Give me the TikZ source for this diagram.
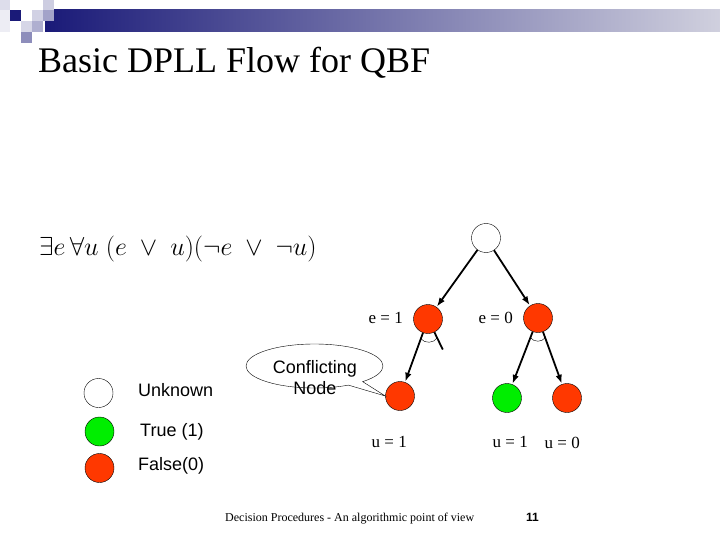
\RequirePackage{fix-cm}
\documentclass[tikz,border=0pt]{standalone}
\usepackage[no-math]{fontspec}
\setmainfont{Liberation Serif}
\newfontfamily\arialfont{Liberation Sans}
\usetikzlibrary{positioning,arrows.meta,calc,shapes.callouts}
\definecolor{navy}{RGB}{26,26,120}
\definecolor{paleblue}{RGB}{208,208,222}
\definecolor{litered}{RGB}{255,56,0}
\definecolor{litegreen}{RGB}{0,238,0}
\tikzset{
  var/.style={circle,draw,thin,minimum size=29pt,inner sep=0pt},
  unk/.style={var,fill=white},
  tru/.style={var,fill=litegreen},
  fls/.style={var,fill=litered},
  branch/.style={-{Latex[length=9pt,width=6.5pt]},line width=1.8pt,shorten >=0.5pt},
  andarc/.style={thin},
  asgn/.style={font=\fontsize{17}{20}\selectfont,inner sep=0pt,anchor=base east},
  legtxt/.style={font=\arialfont\fontsize{18}{20}\selectfont,inner sep=0pt,anchor=base west},
}

\begin{document}
\begin{tikzpicture}[x=1pt,y=-1pt]
  \useasboundingbox (0,0) rectangle (720,540);
  % slide header
  \shade[left color=navy,right color=paleblue] (45,10) rectangle (720,32);
  \fill[navy!15] (0,0) rectangle (10,10);
  \fill[navy!8] (0,10) rectangle (10,32);
  \fill[navy] (10,10) rectangle (21,21);
  \fill[navy!20] (32,10) rectangle (43,21);
  \fill[navy!22] (43,0) rectangle (54,10);
  \fill[navy!40] (43,10) rectangle (54,21);
  \fill[navy!18] (21,21) rectangle (32,32);
  \fill[navy!35] (32,21) rectangle (43,32);
  \fill[navy!50] (21,32) rectangle (32,43);
  \node[anchor=base west,inner sep=0pt,font=\fontsize{36}{40}\selectfont] (title) at (38,73) {Basic DPLL Flow for QBF};
  \node[anchor=base west,inner sep=0pt,font=\fontsize{26}{30}\selectfont] (phi) at (39,255) {$\exists e\,\forall u\;(e\;\vee\;u)(\neg e\;\vee\;\neg u)$};

  % search tree
  \node[unk] (root) at (486,238) {};
  \node[fls] (e1) at (428,319) {};
  \node[fls] (e0) at (538,318) {};
  \node[fls] (e1u1) at (400,396) {};
  \node[tru] (e0u1) at (507,398) {};
  \node[fls] (e0u0) at (567,398) {};
  \coordinate (cut) at (443,350);
  \draw[branch] (root) -- (e1);
  \draw[branch] (root) -- (e0);
  \draw[branch] (e1) -- (e1u1);
  \draw[branch,-] (e1) -- (cut);
  \draw[branch] (e0) -- (e0u1);
  \draw[branch] (e0) -- (e0u0);
  \draw[andarc] ($(e1)!21pt!(e1u1)$) to[bend right=55] ($(e1)!21pt!(cut)$);
  \draw[andarc] ($(e0)!21pt!(e0u1)$) to[bend right=55] ($(e0)!21pt!(e0u0)$);
  \node[asgn] (le1) at (403,323) {e = 1};
  \node[asgn] (le0) at (513,323) {e = 0};
  \node[asgn] (lu1a) at (407,447) {u = 1};
  \node[asgn] (lu1b) at (528,447) {u = 1};
  \node[asgn] (lu0) at (580,448) {u = 0};

  % callout
  \node[ellipse callout,draw,thin,minimum width=137pt,minimum height=44pt,
        callout absolute pointer={(e1u1.west)}] (bubble) at (314.5,366) {};
  \node[legtxt,anchor=center,align=center,font=\arialfont\fontsize{18}{21}\selectfont] (bubtxt) at (315,378) {Conflicting\\Node};

  % legend
  \node[unk] (kunk) at (98.5,393) {};
  \node[tru] (ktru) at (99.5,431.5) {};
  \node[fls] (kfls) at (99.5,468) {};
  \node[legtxt] (tunk) at (138,396) {Unknown};
  \node[legtxt] (ttru) at (140,436) {True (1)};
  \node[legtxt] (tfls) at (138,470) {False(0)};

  % footer
  \node[anchor=base west,inner sep=0pt,font=\fontsize{12}{14}\selectfont] (foot) at (225,521) {Decision Procedures - An algorithmic point of view};
  \node[anchor=base east,inner sep=0pt,font=\arialfont\bfseries\fontsize{12}{14}\selectfont] (pnum) at (539,521) {11};
\end{tikzpicture}
\end{document}
